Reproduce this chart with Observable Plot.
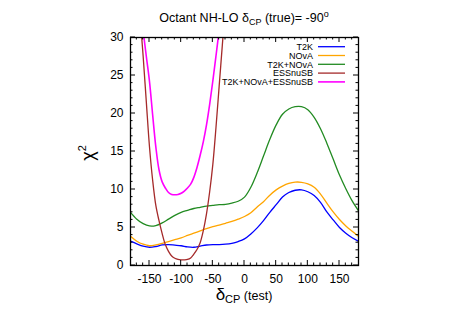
<!DOCTYPE html>
<html>
<head>
<meta charset="utf-8">
<script src="https://cdn.jsdelivr.net/npm/d3@7"></script>
<script src="https://cdn.jsdelivr.net/npm/@observablehq/plot@0.6"></script>
<style>
  html, body { margin: 0; padding: 0; background: #fff; }
</style>
</head>
<body>
<div id="chart"></div>
<script>
// ---- data ----
const seriesNames = ["T2K", "NOvA", "T2K+NOvA", "ESSnuSB", "T2K+NOvA+ESSnuSB"];
const seriesColors = ["#0000ff", "#ffa500", "#228b22", "#a52a2a", "#ff00ff"];

const deltaCoarse = [-180,-170,-160,-150,-140,-130,-120,-110,-100,-90,-80,-70,-60,-50,-40,-30,-20,-10,0,10,20,30,40,50,60,70,80,90,100,110,120,130,140,150,160,170,180];
const chiT2K = [3.2,2.85,2.55,2.4,2.5,2.7,2.75,2.68,2.6,2.45,2.4,2.55,2.7,2.75,2.75,2.8,2.92,3.15,3.5,4.15,4.95,5.9,7.0,8.0,9.0,9.6,9.9,9.95,9.7,9.2,8.3,7.05,6.0,5.0,4.25,3.65,3.2];
const chiNOvA = [3.85,3.2,2.8,2.6,2.7,2.9,3.15,3.4,3.65,3.95,4.25,4.55,4.85,5.1,5.3,5.55,5.8,6.1,6.45,6.95,7.7,8.4,9.25,9.95,10.45,10.8,10.97,10.95,10.75,10.3,9.4,8.2,7.05,6.05,5.2,4.5,3.85];
const chiT2KNOvA = [7.0,6.1,5.5,5.2,5.25,5.6,6.1,6.6,7.0,7.25,7.5,7.65,7.8,7.9,8.0,8.05,8.2,8.45,9.0,10.3,12.2,14.4,16.6,18.5,19.9,20.6,20.9,20.9,20.5,19.5,18.0,16.1,14.0,11.9,10.1,8.5,7.2];

const deltaFine = [-170,-165,-160,-155,-150,-145,-140,-135,-130,-125,-120,-115,-110,-105,-100,-95,-90,-85,-80,-75,-70,-65,-60,-55,-50,-45,-40,-35,-30];
const chiESS = [40,33,27.5,21.5,15.6,11.2,7.9,5.9,4.2,2.75,1.85,1.25,0.95,0.8,0.75,0.75,0.8,1.0,1.5,2.1,3.0,4.6,6.8,9.7,13.3,18.2,23.6,29,34.4];
const chiAll = [42,36,31,27.5,24.2,19.8,15.6,12.6,11.0,10.2,9.6,9.35,9.3,9.35,9.5,9.8,10.2,10.7,11.6,12.9,14.5,16.3,18.5,21.2,24.3,27.6,31,35,39];

const xMajor = [-150,-100,-50,0,50,100,150];
const xMinor = [-170,-160,-140,-130,-120,-110,-90,-80,-70,-60,-40,-30,-20,-10,10,20,30,40,60,70,80,90,110,120,130,140,160,170];
const yMajor = [0,5,10,15,20,25,30];
const yMinor = [1,2,3,4,6,7,8,9,11,12,13,14,16,17,18,19,21,22,23,24,26,27,28,29];

// ---- build tables ----
const fam = "'Liberation Sans', Arial, Helvetica, sans-serif";
const rows = (xs, ys, name) => xs.map((d, i) => ({delta: d, chi: ys[i], name}));
const tables = [
  rows(deltaCoarse, chiT2K, seriesNames[0]),
  rows(deltaCoarse, chiNOvA, seriesNames[1]),
  rows(deltaCoarse, chiT2KNOvA, seriesNames[2]),
  rows(deltaFine, chiESS, seriesNames[3]),
  rows(deltaFine, chiAll, seriesNames[4])
];
const widths = [1.3, 1.3, 1.3, 1.3, 1.6];

const plot = Plot.plot({
  width: 457,
  height: 319,
  marginLeft: 130,
  marginRight: 99,
  marginTop: 37,
  marginBottom: 54,
  style: {fontFamily: fam, fontSize: "12px", color: "#000", background: "#fff"},
  x: {domain: [-180, 180], ticks: xMajor, tickSize: 0, tickPadding: 9, tickFormat: d => String(d), label: null},
  y: {domain: [0, 30], ticks: yMajor, tickSize: 0, tickPadding: 7, tickFormat: d => String(d), label: null},
  marks: [
    ...tables.map((t, i) => Plot.line(t, {x: "delta", y: "chi", stroke: seriesColors[i], strokeWidth: widths[i], curve: "catmull-rom", clip: true})),
    Plot.frame({stroke: "#000", strokeWidth: 1.3})
  ]
});

document.getElementById("chart").appendChild(plot);

// ---- inward ticks on all four sides, positioned through Plot's scales ----
const sx = plot.scale("x"), sy = plot.scale("y");
const svg = d3.select(plot);
const L = sx.apply(-180), R = sx.apply(180), T = sy.apply(30), B = sy.apply(0);
const g = svg.append("g").attr("stroke", "#000").attr("stroke-width", 1);
const tick = (x1, y1, x2, y2) => g.append("line").attr("x1", x1).attr("y1", y1).attr("x2", x2).attr("y2", y2);
xMajor.forEach(v => { const x = sx.apply(v); tick(x, B, x, B - 5); tick(x, T, x, T + 5); });
xMinor.forEach(v => { const x = sx.apply(v); tick(x, B, x, B - 2.5); tick(x, T, x, T + 2.5); });
yMajor.forEach(v => { const y = sy.apply(v); tick(L, y, L + 5, y); tick(R, y, R - 5, y); });
yMinor.forEach(v => { const y = sy.apply(v); tick(L, y, L + 2.5, y); tick(R, y, R - 2.5, y); });

const cx = (L + R) / 2;

// ---- title ----
const title = svg.append("text").attr("x", cx).attr("y", 21.5).attr("text-anchor", "middle")
  .attr("font-family", fam).attr("font-size", 12.5).attr("fill", "#000");
title.append("tspan").text("Octant NH-LO δ");
title.append("tspan").attr("font-size", 9).attr("dy", 3).text("CP");
title.append("tspan").attr("dy", -3).text(" (true)= -90");
title.append("tspan").attr("font-size", 9).attr("dy", -5).text("o");

// ---- axis titles ----
const xt = svg.append("text").attr("x", cx).attr("y", 300).attr("text-anchor", "middle")
  .attr("font-family", fam).attr("fill", "#000");
xt.append("tspan").attr("font-size", 17).text("δ");
xt.append("tspan").attr("font-size", 11).attr("dy", 3).text("CP");
xt.append("tspan").attr("font-size", 12.5).attr("dy", -3).text(" (test)");

const yt = svg.append("text").attr("transform", `translate(94,${(T + B) / 2 + 2}) rotate(-90)`)
  .attr("text-anchor", "middle").attr("font-family", fam).attr("fill", "#000");
yt.append("tspan").attr("font-size", 18).text("χ");
yt.append("tspan").attr("font-size", 11).attr("dy", -8).text("2");

// ---- legend ----
const lg = svg.append("g").attr("font-family", fam).attr("font-size", 9);
seriesNames.forEach((name, i) => {
  const y = 46.7 + i * 8.8;
  lg.append("text").attr("x", 313).attr("y", y + 3.2).attr("text-anchor", "end").attr("fill", "#000").text(name);
  lg.append("line").attr("x1", 318).attr("x2", 345).attr("y1", y).attr("y2", y)
    .attr("stroke", seriesColors[i]).attr("stroke-width", widths[i]);
});
</script>
</body>
</html>
